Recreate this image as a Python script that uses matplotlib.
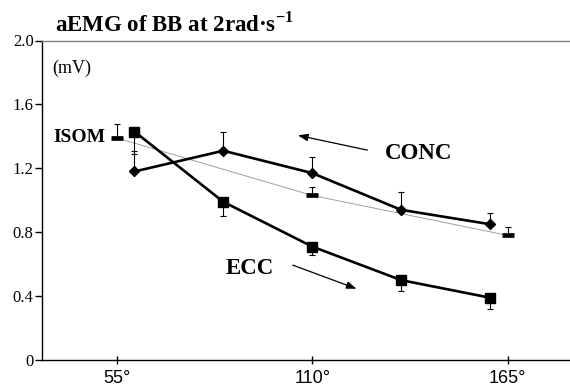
import matplotlib
matplotlib.use("Agg")
import matplotlib.pyplot as plt

# ---- data ----
angles_dyn = [60, 85, 110, 135, 160]
conc = [1.18, 1.31, 1.17, 0.94, 0.85]
conc_err_up = [0.13, 0.12, 0.10, 0.11, 0.07]
ecc = [1.43, 0.99, 0.71, 0.50, 0.39]
ecc_err_down = [0.14, 0.09, 0.05, 0.07, 0.07]

angles_isom = [55, 110, 165]
isom = [1.39, 1.03, 0.78]
isom_err_up = [0.085, 0.05, 0.05]

x_ticks = [55, 110, 165]
x_ticklabels = ["55°", "110°", "165°"]
y_ticks = [0, 0.4, 0.8, 1.2, 1.6, 2.0]
y_ticklabels = ["0", "0.4", "0.8", "1.2", "1.6", "2.0"]

serif = "Liberation Serif"
sans = "Liberation Sans"

# superscript in the title drawn with the same serif face
plt.rcParams["mathtext.fontset"] = "custom"
plt.rcParams["mathtext.rm"] = "Liberation Serif"
plt.rcParams["mathtext.bf"] = "Liberation Serif:bold"

fig = plt.figure(figsize=(5.70, 3.88), dpi=100)
ax = fig.add_axes([42 / 570, 28 / 388, 1 - 42 / 570, 319.5 / 388])

# isometric reference line + markers
ax.plot(angles_isom, isom, color="#a0a0a0", lw=0.7, zorder=1)
ax.errorbar(angles_isom, isom, yerr=[[0] * 3, isom_err_up], fmt="none",
            ecolor="black", elinewidth=0.8, capsize=2.5, capthick=0.8, zorder=2)
ax.plot(angles_isom, isom, ls="none", marker="_", ms=8.5, mew=3.4,
        color="black", zorder=3)

# concentric
ax.errorbar(angles_dyn, conc, yerr=[[0] * 5, conc_err_up], fmt="none",
            ecolor="black", elinewidth=0.8, capsize=2.5, capthick=0.8, zorder=2)
ax.plot(angles_dyn, conc, color="black", lw=1.9, marker="D", ms=5, zorder=4)

# eccentric
ax.errorbar(angles_dyn, ecc, yerr=[ecc_err_down, [0] * 5], fmt="none",
            ecolor="black", elinewidth=0.8, capsize=2.5, capthick=0.8, zorder=2)
ax.plot(angles_dyn, ecc, color="black", lw=1.9, marker="s", ms=6.5, zorder=4)

# annotations
ax.text(52.0, 1.39, "ISOM", ha="right", va="center", fontsize=14,
        fontweight="bold", family=serif)
ax.text(130.5, 1.29, "CONC", ha="left", va="center", fontsize=16.5,
        fontweight="bold", family=serif)
ax.text(85.7, 0.575, "ECC", ha="left", va="center", fontsize=16.5,
        fontweight="bold", family=serif)
ax.text(36.8, 1.825, "(mV)", ha="left", va="center", fontsize=13, family=serif)

arrow = dict(arrowstyle="-|>,head_length=0.6,head_width=0.22", color="black", lw=0.9)
ax.annotate("", xy=(105.2, 1.41), xytext=(126.3, 1.31), arrowprops=arrow)
ax.annotate("", xy=(123.2, 0.44), xytext=(103.8, 0.60), arrowprops=arrow)

fig.text(55 / 570, 1 - 32 / 388, "aEMG of BB at 2rad·s$^{\\mathbf{-1}}$",
         ha="left", va="baseline", fontsize=16.5, fontweight="bold", family=serif)

# axes styling
ax.set_xlim(34, 182.5)
ax.set_ylim(0, 2.0)
ax.spines["right"].set_visible(False)
ax.spines["top"].set_color("#808080")
ax.spines["top"].set_linewidth(1.0)
ax.spines["left"].set_linewidth(1.0)
ax.spines["bottom"].set_linewidth(1.0)

ax.set_yticks(y_ticks)
ax.set_yticklabels(y_ticklabels, family=serif, fontsize=12)
ax.tick_params(axis="y", direction="out", length=5, width=1, pad=1)
ax.set_xticks(x_ticks)
ax.set_xticklabels(x_ticklabels, family=sans, fontsize=13)
ax.tick_params(axis="x", direction="inout", length=6, width=1, pad=4)

fig.savefig("out.png", dpi=100)
